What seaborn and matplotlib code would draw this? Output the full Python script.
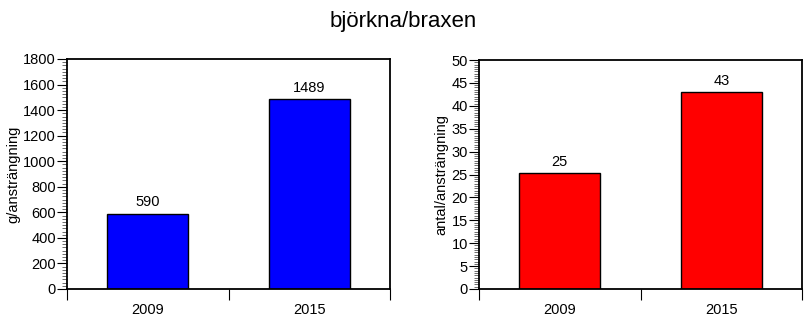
import matplotlib
matplotlib.use("Agg")
import matplotlib.pyplot as plt
import seaborn as sns
import pandas as pd
from matplotlib.ticker import MultipleLocator, FixedLocator

years = ["2009", "2015"]
weight_values = [590, 1489]
count_values = [25.3, 43.0]
count_labels = ["25", "43"]
weight_labels = ["590", "1489"]
title = "björkna/braxen"
ylabel_left = "g/ansträngning"
ylabel_right = "antal/ansträngning"

sns.set_theme(style="white")
plt.rcParams['font.family'] = ['Liberation Sans', 'DejaVu Sans']

fig = plt.figure(figsize=(8.07, 3.21), dpi=100)
axL = fig.add_axes([67/807, 32/321, 323/807, 230/321])
axR = fig.add_axes([479/807, 32/321, 323/807, 229/321])

def draw(ax, vals, labels, color, ymax, major, minor, ylabel):
    df = pd.DataFrame({"year": years, "value": vals})
    sns.barplot(data=df, x="year", y="value", color=color, saturation=1,
                width=0.5, edgecolor="black", linewidth=1.0, ax=ax)
    ax.set_xlim(-0.5, 1.5)
    ax.set_ylim(0, ymax)
    for sp in ax.spines.values():
        sp.set_visible(True)
        sp.set_color("black")
        sp.set_linewidth(1.3)
    ax.yaxis.set_major_locator(MultipleLocator(major))
    ax.yaxis.set_minor_locator(MultipleLocator(minor))
    ax.tick_params(axis="y", which="major", direction="out", length=7, width=0.8,
                   labelsize=10.5, pad=1, colors="black", left=True)
    ax.tick_params(axis="y", which="minor", direction="out", length=3.5, width=0.6,
                   colors="#555555", left=True)
    ax.set_xticks([0, 1])
    ax.set_xticklabels(years)
    ax.xaxis.set_minor_locator(FixedLocator([-0.5, 0.5, 1.5]))
    ax.tick_params(axis="x", which="major", length=0, labelsize=10.5, pad=10, labelcolor="black")
    ax.tick_params(axis="x", which="minor", direction="out", length=8, width=0.8,
                   colors="black", bottom=True)
    ax.set_xlabel("")
    ax.set_ylabel(ylabel, fontsize=10.5, color="black", labelpad=2)
    for i, (v, t) in enumerate(zip(vals, labels)):
        ax.annotate(t, (i, v), xytext=(0, 3), textcoords="offset points",
                    ha="center", va="bottom", fontsize=10.5, color="black")

draw(axL, weight_values, weight_labels, "#0000FF", 1800, 200, 25, ylabel_left)
draw(axR, count_values, count_labels, "#FF0000", 50, 5, 0.5, ylabel_right)

fig.suptitle(title, x=0.5, y=0.965, fontsize=16, va="top", color="black")
fig.savefig("out.png", dpi=100, facecolor="white")
